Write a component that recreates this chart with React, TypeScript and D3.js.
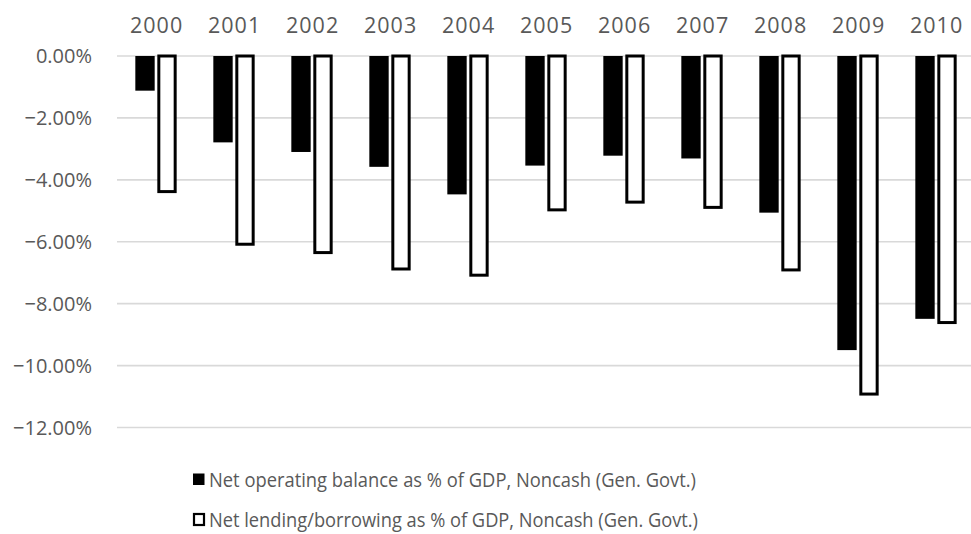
import React from "react";
import * as d3 from "d3";

const years = ["2000", "2001", "2002", "2003", "2004", "2005", "2006", "2007", "2008", "2009", "2010"];
// Net operating balance, % of GDP
const netOperating = [-1.12, -2.79, -3.1, -3.58, -4.47, -3.54, -3.22, -3.31, -5.06, -9.5, -8.49];
// Net lending/borrowing, % of GDP
const netLending = [-4.38, -6.08, -6.35, -6.88, -7.08, -4.97, -4.72, -4.89, -6.91, -10.92, -8.61];
const yTicks = [0, -2, -4, -6, -8, -10, -12];
const seriesNames = [
  "Net operating balance as % of GDP, Noncash (Gen. Govt.)",
  "Net lending/borrowing as % of GDP, Noncash (Gen. Govt.)",
];

const W = 971;
const H = 534;
const FONT = "'Open Sans', sans-serif";
const TEXT = "#595959";

export default function App() {
  const x0 = d3.scaleBand<string>().domain(years).range([117, 975]).paddingInner(0.47).paddingOuter(0.235);
  const x1 = d3.scaleBand<number>().domain([0, 1]).range([0, x0.bandwidth()]).paddingInner(0.12);
  const y = d3.scaleLinear().domain([0, -12]).range([56, 427.5]);
  const fmt = (v: number) => d3.format(".2f")(v) + "%";
  const sw = 3;

  return (
    <div style={{ position: "fixed", left: 0, top: 0 }}>
      <svg width={W} height={H} style={{ display: "block", background: "#fff" }} fontFamily={FONT}>
        {yTicks.map((t) => (
          <g key={t}>
            <line x1={117} x2={W} y1={y(t)} y2={y(t)} stroke="#d9d9d9" strokeWidth={1.6} />
            <text x={92} y={y(t)} dy="0.36em" textAnchor="end" fontSize={20} fill={TEXT}>
              {fmt(t)}
            </text>
          </g>
        ))}
        {years.map((yr) => (
          <text
            key={yr}
            x={x0(yr)! + x0.bandwidth() / 2 + 0.6}
            y={32.5}
            textAnchor="middle"
            fontSize={21.5}
            letterSpacing={1}
            fill={TEXT}
          >
            {yr}
          </text>
        ))}
        {years.map((yr, i) => {
          const bx = x0(yr)!;
          const v0 = netOperating[i];
          const v1 = netLending[i];
          return (
            <g key={yr}>
              <rect x={bx + x1(0)!} y={y(0)} width={x1.bandwidth()} height={y(v0) - y(0)} fill="#000" />
              <rect
                x={bx + x1(1)! + sw / 2}
                y={y(0)}
                width={x1.bandwidth() - sw}
                height={y(v1) - y(0)}
                fill="#fff"
                stroke="#000"
                strokeWidth={sw}
              />
            </g>
          );
        })}
        <g>
          <rect x={193} y={473.5} width={11.5} height={11.5} fill="#000" />
          <text x={209} y={486.7} fontSize={19.5} fill={TEXT} textLength={487} lengthAdjust="spacingAndGlyphs">
            {seriesNames[0]}
          </text>
          <rect x={194} y={514} width={10} height={11} fill="#fff" stroke="#000" strokeWidth={2.2} />
          <text x={209} y={526.7} fontSize={19.5} fill={TEXT} textLength={489} lengthAdjust="spacingAndGlyphs">
            {seriesNames[1]}
          </text>
        </g>
      </svg>
    </div>
  );
}
